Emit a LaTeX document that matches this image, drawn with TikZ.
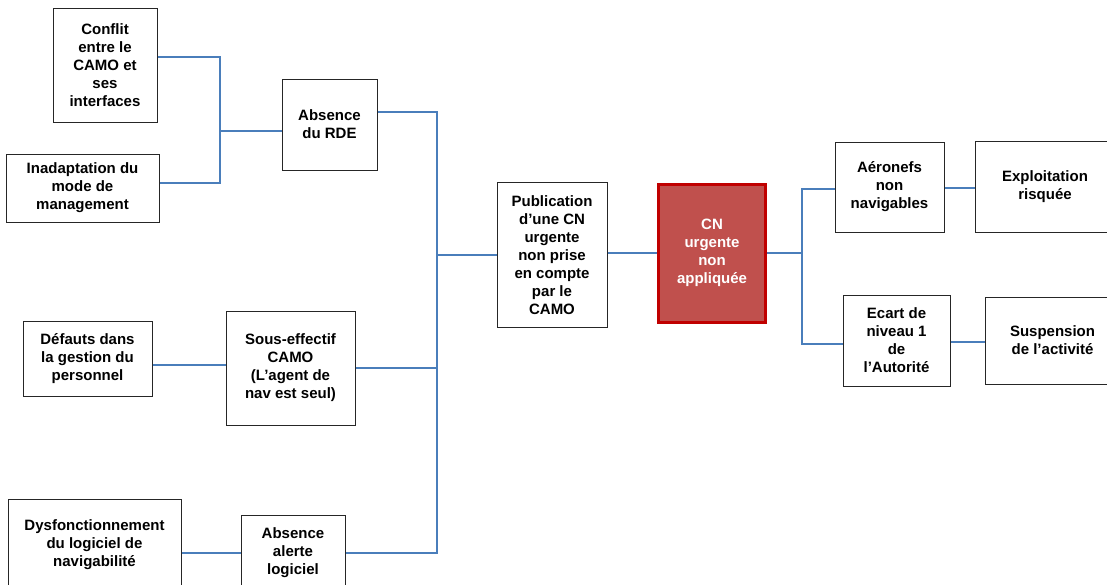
\documentclass[tikz,border=0pt]{standalone}
\usepackage{fontspec}
\setmainfont{Liberation Sans}
\definecolor{linkblue}{HTML}{4A7EBB}
\definecolor{critfill}{HTML}{C0504D}
\definecolor{critedge}{HTML}{C00000}
\begin{document}
\begin{tikzpicture}[x=1pt,y=-1pt,
  box/.style={draw=black!85, line width=1pt, fill=white, inner sep=0pt, align=center,
    font=\fontsize{15}{18}\selectfont\bfseries},
  crit/.style={box, draw=critedge, line width=3pt, fill=critfill, text=white},
  link/.style={draw=linkblue, line width=1.4pt}]
\useasboundingbox (0,0) rectangle (1107,584);

% causes, left column
\node[box, minimum width=104pt, minimum height=114pt] (conflit) at (105,65) {Conflit\\entre le\\CAMO et\\ses\\interfaces};
\node[box, minimum width=153pt, minimum height=68pt] (inad) at (82.5,188) {Inadaptation du\\mode de\\management};
\node[box, minimum width=129pt, minimum height=75pt] (defauts) at (87.5,358.5) {Défauts dans\\la gestion du\\personnel};
\node[box, minimum width=173pt, minimum height=92pt] (dysf) at (94.5,545) {Dysfonctionnement\\du logiciel de\\navigabilité};

% intermediate causes
\node[box, minimum width=95pt, minimum height=91pt] (rde) at (329.5,124.5) {Absence\\du RDE};
\node[box, minimum width=129pt, minimum height=114pt] (sous) at (290.5,368) {Sous-effectif\\CAMO\\(L’agent de\\nav est seul)};
\node[box, minimum width=104pt, minimum height=76pt] (alerte) at (293,553) {Absence\\alerte\\logiciel};

% central event
\node[box, minimum width=110pt, minimum height=145pt] (pub) at (552,255) {Publication\\d’une CN\\urgente\\non prise\\en compte\\par le\\CAMO};
\node[crit, minimum width=107pt, minimum height=138pt] (cn) at (712,253) {CN\\urgente\\non\\appliquée};

% consequences
\node[box, minimum width=109pt, minimum height=90pt] (aero) at (889.5,187) {Aéronefs\\non\\navigables};
\node[box, minimum width=140pt, minimum height=91pt] (expl) at (1045,186.5) {Exploitation\\risquée};
\node[box, minimum width=107pt, minimum height=91pt] (ecart) at (896.5,340.5) {Ecart de\\niveau 1\\de\\l’Autorité};
\node[box, minimum width=135pt, minimum height=87pt] (susp) at (1052.5,340.5) {Suspension\\de l’activité};

% junction points of the connector trees
\coordinate (jA) at (220,131);
\coordinate (jB) at (437,255);
\coordinate (jC) at (802,253);

% left tree
\draw[link] ([yshift=8pt]conflit.east) -| (jA) |- ([yshift=5pt]inad.east);
\draw[link] (jA) -- (jA -| rde.west);
\draw[link] ([yshift=-6.5pt]defauts.east) -- ([yshift=-6.5pt]defauts.east -| sous.west);
\draw[link] ([yshift=-8pt]dysf.east) -- ([yshift=-8pt]dysf.east -| alerte.west);

% trunk into the publication box
\draw[link] ([yshift=12.5pt]rde.east) -| (jB) |- (alerte.east);
\draw[link] (sous.east) -- (sous.east -| jB);
\draw[link] (jB) -- (pub.west);
\draw[link] ([yshift=2pt]pub.east) -- ([yshift=2pt]pub.east -| cn.west);

% right tree
\draw[link] (cn.east) -- (jC);
\draw[link] ([yshift=-2pt]aero.west) -| (jC) |- ([yshift=-3.5pt]ecart.west);
\draw[link] ([yshift=-1pt]aero.east) -- ([yshift=-1pt]aero.east -| expl.west);
\draw[link] ([yshift=-1.5pt]ecart.east) -- ([yshift=-1.5pt]ecart.east -| susp.west);
\end{tikzpicture}
\end{document}
